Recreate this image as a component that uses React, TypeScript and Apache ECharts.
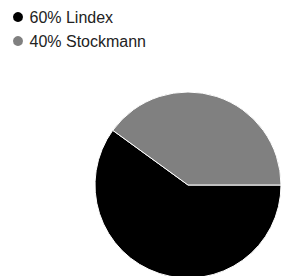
import React, { useEffect, useRef } from "react";
import * as echarts from "echarts";

const categories = ["Lindex", "Stockmann"];
const shares = [60, 40];
const colors = ["#000000", "#808080"];

export default function App() {
  const ref = useRef<HTMLDivElement>(null);
  useEffect(() => {
    if (!ref.current) return;
    const chart = echarts.init(ref.current, null, { renderer: "svg" });
    const total = shares.reduce((a, b) => a + b, 0);
    chart.setOption({
      animation: false,
      color: colors,
      legend: {
        orient: "vertical",
        left: 6,
        top: 4,
        icon: "circle",
        itemWidth: 13,
        itemHeight: 12,
        itemGap: 8,
        textStyle: { fontFamily: "Liberation Sans, Arial, sans-serif", fontSize: 16, color: "#222" },
        formatter: (name: string) => {
          const i = categories.indexOf(name);
          return `${Math.round((shares[i] / total) * 100)}% ${name}`;
        },
        data: categories,
      },
      series: [
        {
          type: "pie",
          center: [188, 185],
          radius: 93,
          startAngle: 0,
          clockwise: true,
          label: { show: false },
          labelLine: { show: false },
          itemStyle: { borderColor: "#fff", borderWidth: 1 },
          data: categories.map((name, i) => ({ name, value: shares[i] })),
        },
      ],
    });
    return () => chart.dispose();
  }, []);
  return (
    <div
      ref={ref}
      style={{ position: "fixed", left: 0, top: 0, width: 307, height: 276, background: "#fff" }}
    />
  );
}
